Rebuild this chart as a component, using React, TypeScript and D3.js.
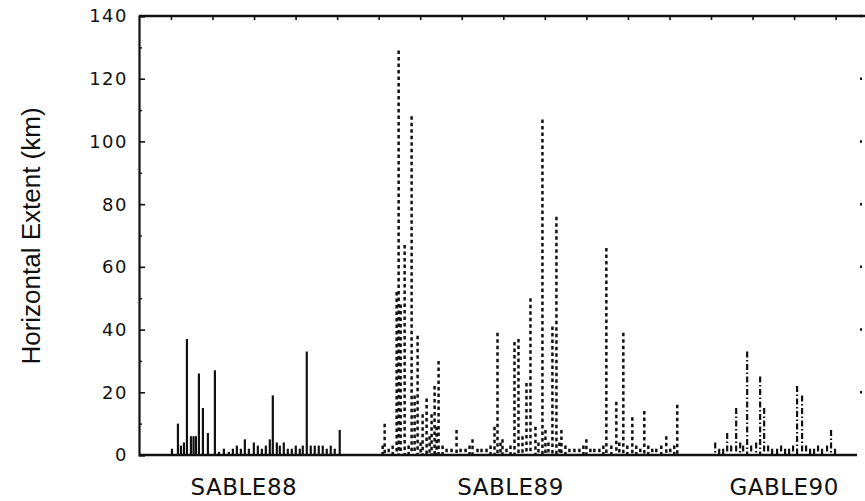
import React, { useEffect, useRef } from 'react'
import * as d3 from 'd3'

// y axis ticks (km)
const yMajor = [0, 20, 40, 60, 80, 100, 120, 140]
const yMinor = [10, 30, 50, 70, 90, 110, 130]

// campaign labels and where they sit on the case axis
const campaigns = ['SABLE88', 'SABLE89', 'GABLE90']
const campaignCenters = [52.5, 186, 323]

// SABLE88 - solid
const sable88Case = [16.5, 19.5, 21, 22.5, 24, 26, 27.3, 28.5, 30, 32, 34.5, 38, 40, 42.5, 45, 47, 49, 51, 53, 55, 57.5, 59.5, 61.5, 63.5, 65.5, 67, 69, 70.5, 72.5, 74.5, 76.5, 78.5, 80.5, 82, 84, 86, 88, 90, 92, 94, 96, 98, 100.5]
const sable88Extent = [2, 10, 3, 4, 37, 6, 6, 6, 26, 15, 7, 27, 1, 2, 1, 2, 3, 2, 5, 2, 4, 3, 2, 3, 5, 19, 4, 3, 4, 2, 2, 3, 2, 3, 33, 3, 3, 3, 3, 2, 3, 2, 8]

// SABLE89 - dashed
const sable89Case = [122, 123, 125, 127, 129, 130, 131, 133, 135, 136.5, 138, 139.5, 141, 142, 144, 145.5, 146.5, 148, 149, 150, 152, 154, 156.5, 159, 161, 163.5, 165.5, 167, 169.5, 171.5, 174, 176, 178, 179.5, 181, 182, 184, 186, 188, 190, 192, 194, 196, 198.5, 200, 202, 203.5, 205, 207, 209, 210.5, 211.5, 213.5, 215.5, 218, 220.5, 222.5, 224, 226, 228, 230.5, 232.5, 234, 236.5, 239, 240.5, 242.5, 244.5, 247, 249, 251, 253, 255, 257, 259, 261.5, 264, 266, 268, 269.5]
const sable89Extent = [3, 10, 2, 3, 52, 129, 48, 67, 3, 108, 19, 38, 4, 13, 18, 6, 13, 22, 9, 30, 3, 2, 2, 8, 2, 2, 3, 5, 2, 2, 2, 3, 9, 39, 4, 5, 2, 3, 36, 37, 6, 23, 50, 9, 4, 107, 8, 4, 41, 76, 4, 8, 3, 2, 2, 2, 3, 5, 2, 2, 2, 3, 66, 3, 17, 4, 39, 3, 12, 3, 2, 14, 3, 2, 2, 3, 6, 2, 3, 16]

// GABLE90 - dash-dot
const gable90Case = [288.5, 290.5, 292.5, 294.5, 296.5, 299, 301, 302.5, 304.5, 306.5, 309, 311, 313, 315, 317, 319.5, 321.5, 323.5, 325.5, 327.5, 329.5, 332, 334, 336, 338, 340, 342, 344.5, 346.5, 348.5]
const gable90Extent = [4, 2, 2, 7, 3, 15, 4, 3, 33, 3, 4, 25, 15, 3, 2, 2, 3, 2, 2, 3, 22, 19, 3, 2, 2, 3, 2, 3, 8, 2]

export default function App() {
    const chart = useRef(null)

    const width = 865
    const height = 501
    const margin = { top: 16, right: 3, bottom: 46, left: 139 }

    useEffect(() => {
        const svg = d3.select(chart.current)
        svg.selectAll('*').remove()

        const x = d3.scaleLinear()
            .domain([0, 362])
            .range([margin.left, width - margin.right])

        const y = d3.scaleLinear()
            .domain([0, 140])
            .range([height - margin.bottom, margin.top])

        const ink = '#111'

        // bars: solid / dashed / dash-dot per campaign
        const series = [
            { cases: sable88Case, values: sable88Extent, dash: null, w: 2.2 },
            { cases: sable89Case, values: sable89Extent, dash: '3.5,3', w: 2.5 },
            { cases: gable90Case, values: gable90Extent, dash: '6,2.5,1.5,2.5', w: 2.2 },
        ]
        series.forEach(s => {
            svg.append('g')
                .selectAll('line')
                .data(s.cases.map((c, i) => ({ c, v: s.values[i] })))
                .join('line')
                .attr('x1', d => x(d.c))
                .attr('x2', d => x(d.c))
                .attr('y1', d => y(d.v))
                .attr('y2', y(0))
                .attr('stroke', ink)
                .attr('stroke-width', s.w)
                .attr('stroke-dasharray', s.dash)
        })

        // left axis, ticks pointing in
        svg.append('g')
            .attr('transform', `translate(${margin.left},0)`)
            .call(d3.axisRight(y).tickValues(yMajor).tickSize(6).tickFormat(() => ''))
            .call(g => g.select('.domain').attr('stroke-width', 2.2).attr('stroke', ink))
            .call(g => g.selectAll('.tick line').attr('stroke-width', 1.6).attr('stroke', ink))

        svg.append('g')
            .attr('transform', `translate(${margin.left},0)`)
            .call(d3.axisRight(y).tickValues(yMinor).tickSize(3).tickFormat(() => ''))
            .call(g => g.select('.domain').remove())
            .call(g => g.selectAll('.tick line').attr('stroke-width', 1.4).attr('stroke', ink))

        // tick labels
        svg.append('g')
            .selectAll('text')
            .data(yMajor)
            .join('text')
            .attr('x', margin.left - 11)
            .attr('y', d => y(d))
            .attr('dy', '0.36em')
            .attr('text-anchor', 'end')
            .attr('font-family', 'DejaVu Sans, sans-serif')
            .attr('font-size', 18)
            .attr('letter-spacing', 1.5)
            .attr('fill', ink)
            .text(d => d)

        // right side tick marks (axis line itself faded)
        svg.append('g')
            .selectAll('line')
            .data(yMajor.slice(1))
            .join('line')
            .attr('x1', width - margin.right)
            .attr('x2', width - margin.right - 2)
            .attr('y1', d => y(d))
            .attr('y2', d => y(d))
            .attr('stroke', ink)
            .attr('stroke-width', 2.5)

        // top frame with hanging ticks
        svg.append('g')
            .attr('transform', `translate(0,${margin.top})`)
            .call(d3.axisBottom(x).tickValues(d3.range(16, 350, 20.8)).tickSize(4).tickFormat(() => ''))
            .call(g => g.select('.domain').attr('d', `M${margin.left},0H${width}`).attr('stroke-width', 2.6).attr('stroke', ink))
            .call(g => g.selectAll('.tick line').attr('stroke-width', 1.6).attr('stroke', ink))

        // bottom axis line
        svg.append('line')
            .attr('x1', margin.left)
            .attr('x2', width - 8)
            .attr('y1', y(0))
            .attr('y2', y(0))
            .attr('stroke', ink)
            .attr('stroke-width', 2.4)

        // campaign labels
        svg.append('g')
            .selectAll('text')
            .data(campaigns)
            .join('text')
            .attr('x', (d, i) => x(campaignCenters[i]))
            .attr('y', height - 6)
            .attr('text-anchor', 'middle')
            .attr('font-family', 'DejaVu Sans, sans-serif')
            .attr('font-size', 23)
            .attr('letter-spacing', 0.5)
            .attr('fill', ink)
            .text(d => d)

        // y title
        svg.append('text')
            .attr('transform', `translate(40,236) rotate(-90)`)
            .attr('text-anchor', 'middle')
            .attr('font-family', 'Liberation Sans, Arial, sans-serif')
            .attr('font-size', 26)
            .attr('fill', ink)
            .text('Horizontal Extent (km)')
    }, [])

    return (
        <svg ref={chart} width={width} height={height}
            style={{ position: 'absolute', left: 0, top: 0, background: '#fff' }} />
    )
}
